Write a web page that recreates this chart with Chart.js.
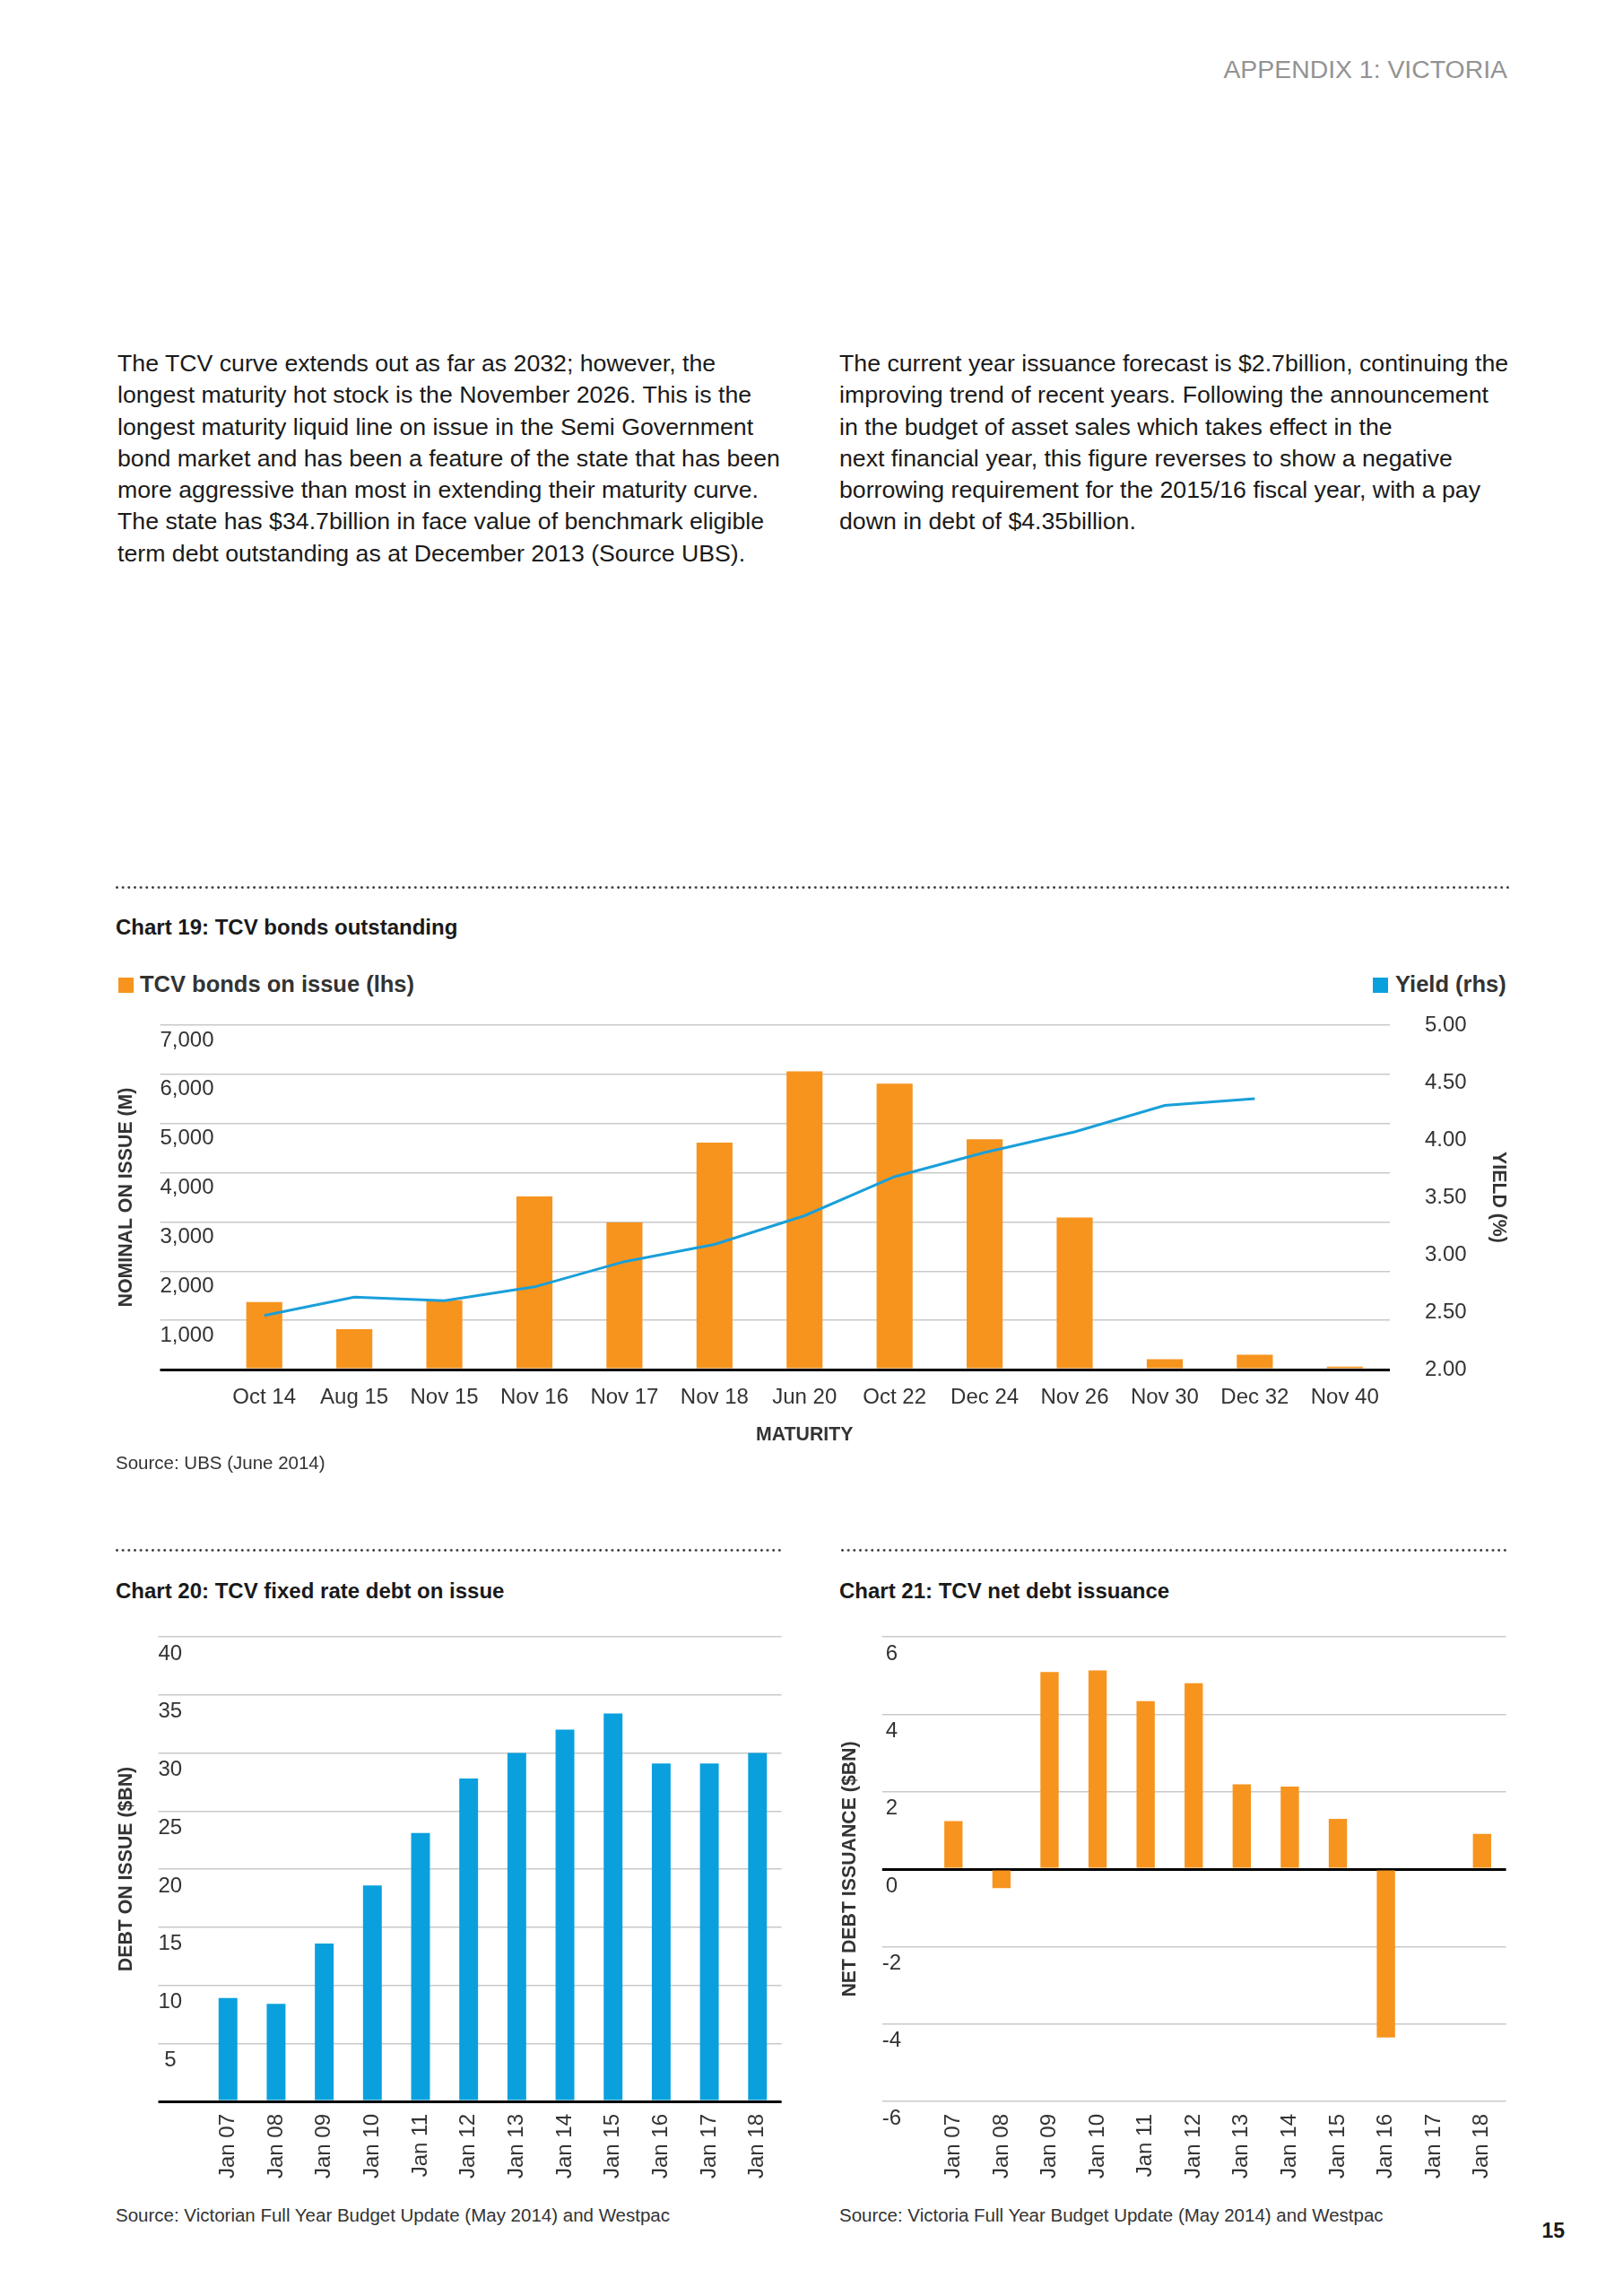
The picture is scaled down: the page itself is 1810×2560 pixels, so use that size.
<!DOCTYPE html>
<html>
<head>
<meta charset="utf-8">
<title>TCV charts</title>
<script src="https://cdn.jsdelivr.net/npm/chart.js@4.4.1/dist/chart.umd.min.js"></script>
<style>
html,body{margin:0;padding:0;background:#fff;}
#page{position:relative;width:1810px;height:2560px;overflow:hidden;font-family:"Liberation Sans",Arial,Helvetica,sans-serif;color:#1a1a1a;}
.t{position:absolute;white-space:nowrap;line-height:1;}
.body{position:absolute;white-space:nowrap;font-size:26.7px;line-height:35.3px;color:#1a1a1a;}
.dots{position:absolute;height:3px;background-image:radial-gradient(circle at 1.5px 1.5px,#3a3a3a 1.1px,rgba(0,0,0,0) 1.6px);background-size:6.67px 3px;background-repeat:repeat-x;}
.sq{position:absolute;}
canvas{position:absolute;}
</style>
</head>
<body>
<div id="page">
  <div class="t" style="right:129px;top:62.5px;font-size:28.4px;color:#939393;">APPENDIX 1: VICTORIA</div>

  <div class="body" style="left:131px;top:388px;">The TCV curve extends out as far as 2032; however, the<br>longest maturity hot stock is the November 2026. This is the<br>longest maturity liquid line on issue in the Semi Government<br>bond market and has been a feature of the state that has been<br>more aggressive than most in extending their maturity curve.<br>The state has $34.7billion in face value of benchmark eligible<br>term debt outstanding as at December 2013 (Source UBS).</div>
  <div class="body" style="left:936px;top:388px;">The current year issuance forecast is $2.7billion, continuing the<br>improving trend of recent years. Following the announcement<br>in the budget of asset sales which takes effect in the<br>next financial year, this figure reverses to show a negative<br>borrowing requirement for the 2015/16 fiscal year, with a pay<br>down in debt of $4.35billion.</div>

  <div class="dots" style="left:129px;top:988px;width:1555px;"></div>
  <div class="t" style="left:129px;top:1022px;font-size:24px;font-weight:bold;">Chart 19: TCV bonds outstanding</div>

  <div class="sq" style="left:132px;top:1090px;width:17px;height:17px;background:#F7941E;"></div>
  <div class="t" style="left:156px;top:1085px;font-size:25.5px;font-weight:bold;color:#333;">TCV bonds on issue (lhs)</div>
  <div class="sq" style="left:1531px;top:1090px;width:17px;height:17px;background:#0AA0DD;"></div>
  <div class="t" style="left:1556px;top:1085px;font-size:25.5px;font-weight:bold;color:#333;">Yield (rhs)</div>

  <canvas id="c19" width="1580" height="500" style="left:120px;top:1120px;width:1580px;height:500px;"></canvas>

  <div class="t" style="left:129px;top:1621px;font-size:20.5px;color:#333;">Source: UBS (June 2014)</div>

  <div class="dots" style="left:129px;top:1727px;width:745px;"></div>
  <div class="dots" style="left:938px;top:1727px;width:745px;"></div>

  <div class="t" style="left:129px;top:1762px;font-size:24px;font-weight:bold;">Chart 20: TCV fixed rate debt on issue</div>
  <div class="t" style="left:936px;top:1762px;font-size:24px;font-weight:bold;">Chart 21: TCV net debt issuance</div>

  <canvas id="c20" width="768" height="643" style="left:120px;top:1800px;width:768px;height:643px;"></canvas>
  <canvas id="c21" width="766" height="643" style="left:930px;top:1800px;width:766px;height:643px;"></canvas>

  <div class="t" style="left:129px;top:2460px;font-size:20.5px;color:#333;">Source: Victorian Full Year Budget Update (May 2014) and Westpac</div>
  <div class="t" style="left:936px;top:2460px;font-size:20.5px;color:#333;">Source: Victoria Full Year Budget Update (May 2014) and Westpac</div>

  <div class="t" style="right:65px;top:2475.5px;font-size:23px;font-weight:bold;">15</div>
</div>

<script>
// ---------- DATA ----------
const maturities = ['Oct 14','Aug 15','Nov 15','Nov 16','Nov 17','Nov 18','Jun 20','Oct 22','Dec 24','Nov 26','Nov 30','Dec 32','Nov 40'];
const bondsOnIssue = [1370, 820, 1410, 3520, 2990, 4610, 6060, 5810, 4680, 3090, 210, 300, 60];
const yieldPct = [2.47, 2.63, 2.60, 2.72, 2.94, 3.09, 3.34, 3.68, 3.89, 4.07, 4.30, 4.36, null];

const years = ['Jan 07','Jan 08','Jan 09','Jan 10','Jan 11','Jan 12','Jan 13','Jan 14','Jan 15','Jan 16','Jan 17','Jan 18'];
const fixedRateDebt = [8.9, 8.4, 13.6, 18.6, 23.1, 27.8, 30.0, 32.0, 33.4, 29.1, 29.1, 30.0];
const netDebtIssuance = [1.24, -0.49, 5.09, 5.13, 4.34, 4.80, 2.19, 2.13, 1.30, -4.35, 0, 0.91];

const bondTicks = [1000, 2000, 3000, 4000, 5000, 6000, 7000];
const yieldTicks = [2.00, 2.50, 3.00, 3.50, 4.00, 4.50, 5.00];
const debtTicks = [5, 10, 15, 20, 25, 30, 35, 40];
const netTicks = [-6, -4, -2, 0, 2, 4, 6];

// ---------- STYLE ----------
const FAMILY = '"Liberation Sans", Arial, Helvetica, sans-serif';
const ORANGE = '#F7941E';
const BLUE = '#0AA0DD';
const LINEBLUE = '#1A9FD9';
const GRID = '#c9c9c9';
const TICKCOL = '#333333';
const TITLEFONT = { size: 21.3, weight: 'bold' };

Chart.defaults.font.family = FAMILY;
Chart.defaults.color = TICKCOL;

function measure(labels, size) {
  const ctx = document.createElement('canvas').getContext('2d');
  ctx.font = size + 'px ' + FAMILY;
  let w = 0;
  labels.forEach(l => { w = Math.max(w, ctx.measureText(l).width); });
  return w;
}

function gridOpts(tickLen) {
  const isZero = c => c.tick && c.tick.value === 0;
  return {
    display: true,
    drawOnChartArea: true,
    drawTicks: true,
    tickLength: tickLen,
    color: c => isZero(c) ? '#000' : GRID,
    lineWidth: c => isZero(c) ? 3 : 1.5,
    tickColor: c => isZero(c) ? '#000' : GRID,
    tickWidth: c => isZero(c) ? 3 : 1.5
  };
}

const fmtThousands = v => v.toLocaleString('en-US');

// ---------- CHART 19 ----------
const w19 = measure(bondTicks.map(fmtThousands), 24);
new Chart(document.getElementById('c19'), {
  data: {
    labels: maturities,
    datasets: [
      {
        type: 'line', label: 'Yield (rhs)', data: yieldPct, yAxisID: 'y1', order: 0,
        borderColor: LINEBLUE, borderWidth: 3, pointRadius: 0, tension: 0, fill: false
      },
      {
        type: 'bar', label: 'TCV bonds on issue (lhs)', data: bondsOnIssue, yAxisID: 'y', order: 1,
        backgroundColor: ORANGE, borderWidth: 0, barPercentage: 0.4, categoryPercentage: 1.0
      }
    ]
  },
  options: {
    responsive: false, animation: false,
    layout: { padding: { top: 23, left: 0, right: 0, bottom: 0 } },
    plugins: { legend: { display: false }, tooltip: { enabled: false } },
    scales: {
      x: {
        type: 'category', offset: true,
        grid: { display: false, drawTicks: false },
        border: { display: false },
        ticks: { font: { size: 24 }, color: TICKCOL, padding: 16.6, maxRotation: 0, minRotation: 0, autoSkip: false },
        title: { display: true, text: 'MATURITY', color: TICKCOL, font: TITLEFONT, padding: { top: 0, bottom: 7.2 } },
        afterFit: s => { s.height = 93; }
      },
      y: {
        position: 'left', min: 0, max: 7000,
        afterBuildTicks: s => { s.ticks = [0].concat(bondTicks).map(v => ({ value: v })); },
        ticks: {
          font: { size: 24 }, color: TICKCOL, crossAlign: 'center', padding: -w19, labelOffset: 17,
          callback: v => v === 0 ? '' : fmtThousands(v)
        },
        grid: gridOpts(66),
        border: { display: false },
        title: { display: true, text: 'NOMINAL ON ISSUE (M)', color: TICKCOL, font: TITLEFONT, padding: { top: 8.2, bottom: 0 } },
        afterFit: s => { s.width = 124.5; }
      },
      y1: {
        position: 'right', min: 2, max: 5,
        afterBuildTicks: s => { s.ticks = yieldTicks.map(v => ({ value: v })); },
        ticks: { font: { size: 24 }, color: TICKCOL, padding: 0, callback: v => Number(v).toFixed(2) },
        grid: { display: true, drawOnChartArea: false, drawTicks: true, tickLength: 39, tickColor: 'rgba(0,0,0,0)' },
        border: { display: false },
        title: { display: true, text: 'YIELD (%)', color: TICKCOL, font: TITLEFONT, padding: { top: 16.2, bottom: 0 } },
        afterFit: s => { s.width = 150; }
      }
    }
  }
});

// ---------- CHART 20 ----------
const w20 = measure(debtTicks.map(String), 24);
new Chart(document.getElementById('c20'), {
  type: 'bar',
  data: {
    labels: years,
    datasets: [{
      label: 'TCV fixed rate debt on issue', data: fixedRateDebt,
      backgroundColor: BLUE, borderWidth: 0, barPercentage: 0.39, categoryPercentage: 1.0
    }]
  },
  options: {
    responsive: false, animation: false,
    layout: { padding: { top: 25, left: 0, right: 10, bottom: 0 } },
    plugins: { legend: { display: false }, tooltip: { enabled: false } },
    scales: {
      x: {
        offset: true,
        grid: { display: false, drawTicks: false },
        border: { display: false },
        ticks: { font: { size: 24 }, color: TICKCOL, padding: 14, minRotation: 90, maxRotation: 90, autoSkip: false },
        afterFit: s => { s.height = 100; }
      },
      y: {
        min: 0, max: 40,
        afterBuildTicks: s => { s.ticks = [0].concat(debtTicks).map(v => ({ value: v })); },
        ticks: {
          font: { size: 24 }, color: TICKCOL, crossAlign: 'center', padding: -w20, labelOffset: 19,
          callback: v => v === 0 ? '' : String(v)
        },
        grid: gridOpts(50.9),
        border: { display: false },
        title: { display: true, text: 'DEBT ON ISSUE ($BN)', color: TICKCOL, font: TITLEFONT, padding: { top: 8.2, bottom: 0 } },
        afterFit: s => { s.width = 107.4; }
      }
    }
  }
});

// ---------- CHART 21 ----------
const w21 = measure(netTicks.map(String), 24);
new Chart(document.getElementById('c21'), {
  type: 'bar',
  data: {
    labels: years,
    datasets: [{
      label: 'TCV net debt issuance', data: netDebtIssuance,
      backgroundColor: ORANGE, borderWidth: 0, barPercentage: 0.38, categoryPercentage: 1.0
    }]
  },
  options: {
    responsive: false, animation: false,
    layout: { padding: { top: 25, left: 0, right: 10, bottom: 0 } },
    plugins: { legend: { display: false }, tooltip: { enabled: false } },
    scales: {
      x: {
        offset: true,
        grid: { display: false, drawTicks: false },
        border: { display: false },
        ticks: { font: { size: 24 }, color: TICKCOL, padding: 14, minRotation: 90, maxRotation: 90, autoSkip: false },
        afterFit: s => { s.height = 100; }
      },
      y: {
        min: -6, max: 6,
        afterBuildTicks: s => { s.ticks = netTicks.map(v => ({ value: v })); },
        ticks: {
          font: { size: 24 }, color: TICKCOL, crossAlign: 'center', padding: -w21, labelOffset: 19,
          callback: v => String(v)
        },
        grid: gridOpts(52.7),
        border: { display: false },
        title: { display: true, text: 'NET DEBT ISSUANCE ($BN)', color: TICKCOL, font: TITLEFONT, padding: { top: 5.7, bottom: 0 } },
        afterFit: s => { s.width = 106.5; }
      }
    }
  }
});
</script>
</body>
</html>
